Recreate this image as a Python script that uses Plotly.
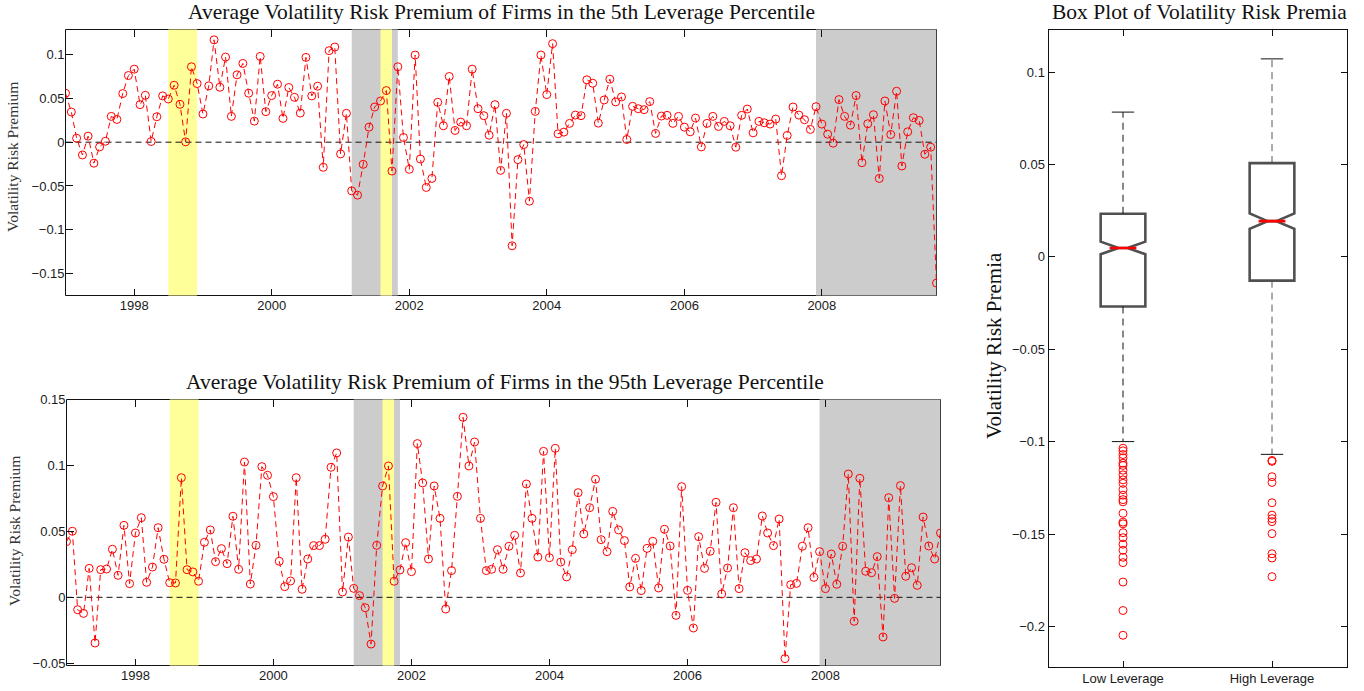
import pandas as pd
import plotly.graph_objects as go

# ---------------- data ----------------
start_month = "1997-01-01"

vrp_5th = [
    0.056, 0.0345, 0.0046, -0.0146, 0.0069, -0.024, -0.0054, 0.0011, 0.0295, 0.026,
    0.0556, 0.0762, 0.0835, 0.0429, 0.0536, 0.0008, 0.0291, 0.0529, 0.0494, 0.0651,
    0.0433, 0.0004, 0.0862, 0.067, 0.0322, 0.0644, 0.117, 0.0628, 0.0973, 0.0295,
    0.077, 0.090, 0.056, 0.0241, 0.098, 0.0349, 0.0533, 0.0663, 0.0272, 0.0625,
    0.0513, 0.0333, 0.0969, 0.0529, 0.064, -0.0287, 0.1046, 0.1088, -0.0134, 0.033,
    -0.0556, -0.0605, -0.0253, 0.0172, 0.0402, 0.0471, 0.059, -0.033, 0.0862, 0.0054,
    -0.031, 0.0996, -0.0192, -0.0517, -0.0414, 0.0456, 0.0188, 0.0751, 0.0134, 0.023,
    0.0188, 0.0835, 0.0383, 0.0303, 0.008, 0.0429, -0.0322, 0.033, -0.1184, -0.0199,
    -0.0027, -0.0674, 0.0352, 0.0996, 0.0544, 0.1126, 0.0096, 0.0115, 0.0215, 0.031,
    0.0303, 0.0713, 0.0674, 0.0218, 0.0483, 0.072, 0.046, 0.0517, 0.0031, 0.041,
    0.0383, 0.0372, 0.0464, 0.01, 0.0299, 0.0307, 0.0215, 0.0295, 0.0172, 0.0119,
    0.0276, -0.0054, 0.0215, 0.0295, 0.018, 0.0238, 0.0188, -0.0057, 0.0307, 0.0379,
    0.0107, 0.0238, 0.0222, 0.0207, 0.0264, -0.0383, 0.0077, 0.0402, 0.031, 0.0257,
    0.0146, 0.0406, 0.0207, 0.0092, -0.0011, 0.0487, 0.0295, 0.0195, 0.0533, -0.0234,
    0.0211, 0.0314, -0.0414, 0.0471, 0.0088, 0.0582, -0.0272, 0.0119, 0.028, 0.0249,
    -0.0138, -0.0057, -0.161,
]

vrp_95th = [
    0.0423, 0.0502, -0.0094, -0.0122, 0.022, -0.0347, 0.021, 0.0215, 0.0365, 0.0167,
    0.0547, 0.0104, 0.0489, 0.0605, 0.0114, 0.023, 0.0529, 0.0289, 0.0111, 0.0109,
    0.0909, 0.021, 0.0193, 0.0122, 0.0418, 0.0512, 0.0271, 0.037, 0.0256, 0.0616,
    0.0213, 0.1028, 0.0101, 0.0395, 0.0993, 0.0927, 0.0765, 0.0274, 0.0081, 0.0124,
    0.0909, 0.0061, 0.0291, 0.0393, 0.0393, 0.0441, 0.0988, 0.1097, 0.0041, 0.0458,
    0.0068, 0.0013, -0.0079, -0.0355, 0.0395, 0.0846, 0.0998, 0.0122, 0.0208, 0.0415,
    0.0195, 0.1168, 0.0869, 0.0291, 0.0846, 0.06, -0.0089, 0.0203, 0.0767, 0.1368,
    0.0998, 0.118, 0.06, 0.0203, 0.0213, 0.0362, 0.0213, 0.0388, 0.0471, 0.0185,
    0.0861, 0.06, 0.0306, 0.1109, 0.0301, 0.1132, 0.0268, 0.0155, 0.0362, 0.0795,
    0.0481, 0.0681, 0.0897, 0.0438, 0.0347, 0.0653, 0.0512, 0.0431, 0.0079, 0.0296,
    0.0051, 0.0372, 0.0426, 0.0071, 0.0517, 0.039, -0.0137, 0.0841, 0.0053, -0.0233,
    0.0461, 0.022, 0.035, 0.0722, 0.0025, 0.0223, 0.0681, 0.0066, 0.0339, 0.0279,
    0.0291, 0.0618, 0.0489, 0.0393, 0.0595, -0.0466, 0.0096, 0.0106, 0.0388, 0.0529,
    0.0152, 0.0347, 0.0066, 0.0329, 0.0099, 0.0388, 0.0937, -0.0182, 0.0904, 0.0198,
    0.0187, 0.0309, -0.0301, 0.0757, -0.0008, 0.0849, 0.016, 0.0225, 0.0091, 0.061,
    0.039, 0.0291, 0.0489,
]

tick_years = [1998, 2000, 2002, 2004, 2006, 2008]
recession_periods = [("2001-03-01", "2001-11-01"), ("2007-12-01", "2009-09-01")]
crisis_periods = [("1998-07-01", "1998-12-01"), ("2001-08-01", "2001-10-01")]

top_yticks = [-0.15, -0.1, -0.05, 0, 0.05, 0.1]
top_yticktext = ["\u22120.15", "\u22120.1", "\u22120.05", "0", "0.05", "0.1"]
bot_yticks = [-0.05, 0, 0.05, 0.1, 0.15]
bot_yticktext = ["\u22120.05", "0", "0.05", "0.1", "0.15"]
box_yticks = [-0.2, -0.15, -0.1, -0.05, 0, 0.05, 0.1]
box_yticktext = ["\u22120.2", "\u22120.15", "\u22120.1", "\u22120.05", "0", "0.05", "0.1"]

box_labels = ["Low Leverage", "High Leverage"]
box_q1 = [-0.0269, -0.0129]
box_median = [0.0048, 0.0193]
box_q3 = [0.0233, 0.0507]
box_notch = [0.0034, 0.0042]
whisker_low = [-0.1000, -0.1069]
whisker_high = [0.0783, 0.1071]
outliers_low = [-0.1036, -0.1050, -0.1070, -0.1088, -0.1117, -0.1129, -0.1155, -0.1180,
                -0.1207, -0.1226, -0.1260, -0.1290, -0.1314, -0.1326, -0.1388, -0.1436,
                -0.1445, -0.1493, -0.1520, -0.1555, -0.1588, -0.1626, -0.1655, -0.1760,
                -0.1914, -0.2048]
outliers_high = [-0.1102, -0.1107, -0.1190, -0.1221, -0.1331, -0.1398, -0.1417, -0.1433,
                 -0.1498, -0.1607, -0.1630, -0.1731]

# ---------------- layout geometry (pixels) ----------------
W, H = 1364, 691


def dx(px):
    return px / W


def dy(py):
    return 1 - py / H


dates = pd.date_range(start_month, periods=len(vrp_5th), freq="MS")

RED = "#ff0000"
SERIF = "Liberation Serif"
SANS = "Liberation Sans"
tickfont = dict(family=SANS, size=13, color="#1a1a1a")

fig = go.Figure()

series = [(vrp_5th, "x", "y"), (vrp_95th, "x2", "y2")]
for vals, xa, ya in series:
    fig.add_trace(go.Scatter(
        x=dates, y=vals, xaxis=xa, yaxis=ya, mode="lines+markers",
        line=dict(color=RED, width=1, dash="6px,4px"),
        marker=dict(symbol="circle-open", size=8, color=RED, line=dict(width=1, color=RED)),
        showlegend=False, hoverinfo="x+y",
    ))

# ---- box plot ----
positions = [1, 2]
box_width = 0.3
notch_frac = 0.4
cap_half = 0.075
whisker_colors = ["#111111", "#555555"]
for k, pos in enumerate(positions):
    fig.add_trace(go.Box(
        x=[pos], q1=[box_q1[k]], median=[box_median[k]], q3=[box_q3[k]],
        lowerfence=[box_q1[k]], upperfence=[box_q3[k]], notchspan=[box_notch[k]],
        notched=True, notchwidth=notch_frac, width=box_width, whiskerwidth=0,
        boxpoints=False, line=dict(color="#505050", width=2.6),
        fillcolor="rgba(0,0,0,0)", xaxis="x3", yaxis="y3", showlegend=False,
    ))
    for a, b in [(box_q3[k], whisker_high[k]), (box_q1[k], whisker_low[k])]:
        fig.add_trace(go.Scatter(
            x=[pos, pos], y=[a, b], mode="lines", xaxis="x3", yaxis="y3",
            line=dict(color=whisker_colors[k], width=1, dash="7px,5px"),
            showlegend=False, hoverinfo="skip",
        ))
    for v in [whisker_high[k], whisker_low[k]]:
        fig.add_trace(go.Scatter(
            x=[pos - cap_half, pos + cap_half], y=[v, v], mode="lines",
            xaxis="x3", yaxis="y3", line=dict(color="#111111", width=1),
            showlegend=False, hoverinfo="skip",
        ))
    mh = box_width / 2 * (1 - notch_frac)
    fig.add_trace(go.Scatter(
        x=[pos - mh, pos + mh], y=[box_median[k], box_median[k]], mode="lines",
        xaxis="x3", yaxis="y3", line=dict(color=RED, width=2.6),
        showlegend=False, hoverinfo="skip",
    ))

for pos, outs in zip(positions, [outliers_low, outliers_high]):
    fig.add_trace(go.Scatter(
        x=[pos] * len(outs), y=outs, mode="markers", xaxis="x3", yaxis="y3",
        marker=dict(symbol="circle-open", size=8, color=RED, line=dict(width=1, color=RED)),
        showlegend=False,
    ))

# ---- axes ----
top_px = dict(x=(65.5, 936.5), y=(29.5, 295.5))
bot_px = dict(x=(66.5, 940.5), y=(399.5, 665.5))
box_px = dict(x=(1048.5, 1346.5), y=(29.5, 666.5))

tickvals_dates = [f"{y}-01-01" for y in tick_years]
ticktext_years = [str(y) for y in tick_years]

common_x = dict(showgrid=False, zeroline=False, showline=False, ticks="inside",
                ticklen=7, tickcolor="#111111", tickwidth=1, tickfont=tickfont,
                mirror="ticks", tickvals=tickvals_dates, ticktext=ticktext_years,
                range=[dates[0], dates[-1]], type="date", automargin=False)
common_y = dict(showgrid=False, zeroline=False, showline=False, ticks="inside",
                ticklen=7, tickcolor="#111111", tickwidth=1, tickfont=tickfont,
                automargin=False)
box_axis = dict(showgrid=False, zeroline=False, showline=True, linecolor="#111111",
                linewidth=1, mirror="ticks", ticks="inside", ticklen=6, tickcolor="#111111",
                tickfont=tickfont, automargin=False)

fig.update_layout(
    template="none",
    xaxis=dict(common_x, domain=[dx(top_px["x"][0]), dx(top_px["x"][1])], anchor="y"),
    yaxis=dict(common_y, domain=[dy(top_px["y"][1]), dy(top_px["y"][0])], anchor="x",
               range=[-0.1752, 0.1288], tickvals=top_yticks, ticktext=top_yticktext),
    xaxis2=dict(common_x, domain=[dx(bot_px["x"][0]), dx(bot_px["x"][1])], anchor="y2"),
    yaxis2=dict(common_y, domain=[dy(bot_px["y"][1]), dy(bot_px["y"][0])], anchor="x2",
                range=[-0.0518, 0.1503], tickvals=bot_yticks, ticktext=bot_yticktext),
    xaxis3=dict(box_axis, range=[0.5, 2.5], tickvals=positions, ticktext=box_labels,
                domain=[dx(box_px["x"][0]), dx(box_px["x"][1])], anchor="y3"),
    yaxis3=dict(box_axis, range=[-0.2217, 0.123], tickvals=box_yticks,
                ticktext=box_yticktext,
                domain=[dy(box_px["y"][1]), dy(box_px["y"][0])], anchor="x3"),
    width=W, height=H, margin=dict(l=0, r=0, t=0, b=0, autoexpand=False),
    paper_bgcolor="white", plot_bgcolor="white", showlegend=False,
)

shapes = []
for p in (top_px, bot_px):
    shapes.append(dict(type="rect", xref="paper", yref="paper", layer="below",
                       x0=dx(p["x"][0]), x1=dx(p["x"][1]), y0=dy(p["y"][1]), y1=dy(p["y"][0]),
                       line=dict(color="#111111", width=1), fillcolor="rgba(0,0,0,0)"))
for xa, ya in [("x", "y"), ("x2", "y2")]:
    for a, b in recession_periods:
        shapes.append(dict(type="rect", xref=xa, yref=f"{ya} domain", x0=a, x1=b, y0=0, y1=1,
                           fillcolor="#cccccc", line=dict(width=0), layer="below"))
    for a, b in crisis_periods:
        shapes.append(dict(type="rect", xref=xa, yref=f"{ya} domain", x0=a, x1=b, y0=0, y1=1,
                           fillcolor="#ffff99", line=dict(width=0), layer="below"))
    shapes.append(dict(type="line", xref=f"{xa} domain", yref=ya, x0=0, x1=1, y0=0, y1=0,
                       line=dict(color="#111111", width=1, dash="6px,4px"), layer="below"))
fig.update_layout(shapes=shapes)

title_font = dict(family=SERIF, size=21.5, color="#111111")
annotations = [
    dict(text="Average Volatility Risk Premium of Firms in the 5th Leverage Percentile",
         x=dx(501.5), y=dy(12), font=title_font),
    dict(text="Average Volatility Risk Premium of Firms in the 95th Leverage Percentile",
         x=dx(505), y=dy(382), font=title_font),
    dict(text="Box Plot of Volatility Risk Premia", x=dx(1199.5), y=dy(12), font=title_font),
    dict(text="Volatility Risk Premium", x=dx(13), y=dy(157), textangle=-90,
         font=dict(family=SERIF, size=15.5, color="#333333")),
    dict(text="Volatility Risk Premium", x=dx(14), y=dy(531), textangle=-90,
         font=dict(family=SERIF, size=15.5, color="#333333")),
    dict(text="Volatility Risk Premia", x=dx(994), y=dy(346), textangle=-90,
         font=dict(family=SERIF, size=21, color="#111111")),
]
for a in annotations:
    a.update(xref="paper", yref="paper", showarrow=False, xanchor="center", yanchor="middle")
fig.update_layout(annotations=annotations)

fig.write_html(
    "out.html",
    config={"displayModeBar": False},
    post_script="document.body.style.margin='0';document.body.style.overflow='hidden';",
)
